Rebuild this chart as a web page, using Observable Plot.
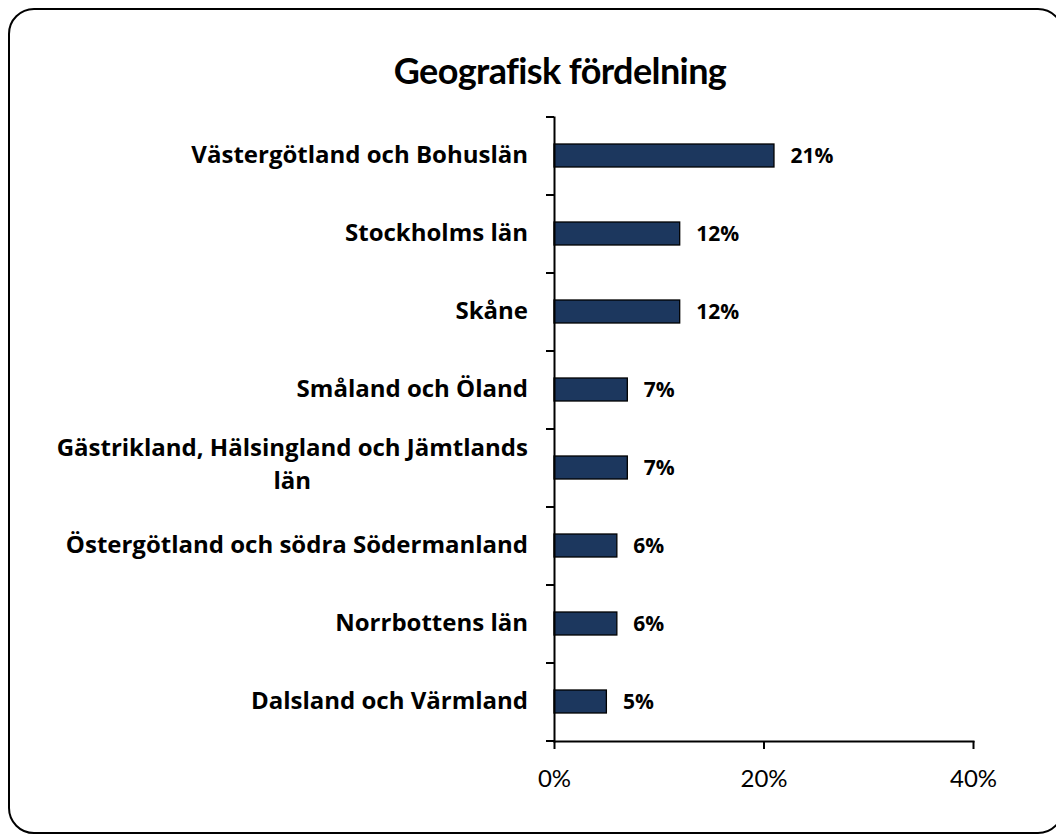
<!DOCTYPE html>
<html><head><meta charset="utf-8">
<script src="https://cdn.jsdelivr.net/npm/d3@7"></script>
<script src="https://cdn.jsdelivr.net/npm/@observablehq/plot@0.6"></script>
<style>
body{margin:0;background:#fff;font-family:Lato,sans-serif;}
#wrap{position:relative;width:1056px;height:835px;overflow:hidden;background:#fff;}
#frame{position:absolute;left:8px;top:8px;width:1056px;height:826px;border:2px solid #000;border-radius:26px;box-sizing:border-box;}
#title{position:absolute;left:0;width:1120px;top:50px;line-height:40px;text-align:center;font-weight:bold;font-size:36px;letter-spacing:-0.6px;font-family:Lato,sans-serif;color:#000;}
#chart{position:absolute;left:0;top:0;}
</style></head>
<body>
<div id="wrap">
  <div id="frame"></div>
  <div id="title">Geografisk fördelning</div>
  <div id="chart"></div>
</div>
<script>
const categories = [
  "Västergötland och Bohuslän",
  "Stockholms län",
  "Skåne",
  "Småland och Öland",
  "Gästrikland, Hälsingland och Jämtlands län",
  "Östergötland och södra Södermanland",
  "Norrbottens län",
  "Dalsland och Värmland"
];
const categoryLabels = [
  "Västergötland och Bohuslän",
  "Stockholms län",
  "Skåne",
  "Småland och Öland",
  "Gästrikland, Hälsingland och Jämtlands\nlän",
  "Östergötland och södra Södermanland",
  "Norrbottens län",
  "Dalsland och Värmland"
];
const values = [21, 12, 12, 7, 7, 6, 6, 5];
const xTicks = [0, 20, 40];

const data = categories.map((c, i) => ({region: c, value: values[i], label: categoryLabels[i]}));

const labelFamily = "Open Sans";
const labelSize = 24;
const ctx = document.createElement("canvas").getContext("2d");
ctx.font = `bold ${labelSize}px "${labelFamily}"`;

function yDecor(index, scales, vals, dims) {
  const y = scales.y;
  const g = d3.create("svg:g");
  const x0 = dims.marginLeft;
  const top = dims.marginTop, bottom = dims.height - dims.marginBottom;
  const n = categories.length;
  const step = (bottom - top) / n;
  for (let i = 0; i <= n; i++) {
    const yy = top + i * step;
    g.append("line").attr("x1", x0 - 8).attr("x2", x0).attr("y1", yy).attr("y2", yy)
      .attr("stroke", "#000").attr("stroke-width", 2);
  }
  const lh = 33;
  data.forEach(d => {
    const yc = y(d.region) + y.bandwidth() / 2;
    const lines = d.label.split("\n");
    const w = Math.max(...lines.map(l => ctx.measureText(l).width));
    const right = x0 - 26;
    const shift = lines.length > 1 ? -3 : -1;
    const t = g.append("text")
      .attr("font-weight", "bold").attr("font-size", labelSize).attr("font-family", labelFamily).attr("fill", "#000");
    if (lines.length > 1) {
      t.attr("text-anchor", "middle");
      lines.forEach((l, j) => {
        t.append("tspan")
          .attr("x", right - w / 2)
          .attr("y", yc + (j - (lines.length - 1) / 2) * lh + shift)
          .attr("dy", "0.35em")
          .text(l);
      });
    } else {
      t.attr("text-anchor", "end").attr("x", right).attr("y", yc + shift).attr("dy", "0.35em").text(lines[0]);
    }
  });
  return g.node();
}

const chart = Plot.plot({
  width: 1056,
  height: 835,
  marginLeft: 554,
  marginRight: 83,
  marginTop: 117,
  marginBottom: 94,
  style: {background: "transparent", fontFamily: "Lato"},
  x: {domain: [0, 40], label: null},
  y: {domain: categories, paddingInner: 0.7, paddingOuter: 0.35, axis: null},
  marks: [
    Plot.barX(data, {x: "value", y: "region", fill: "#1c375e", stroke: "#000", strokeWidth: 1.3}),
    Plot.text(data, {x: "value", y: "region", text: d => d.value + "%", dx: 16, textAnchor: "start",
      fontWeight: "bold", fontSize: 21, fontFamily: "Open Sans", fill: "#000"}),
    Plot.axisX({ticks: xTicks, tickFormat: d => d + "%", tickSize: 8, tickPadding: 20, fontSize: 24,
      strokeWidth: 2, stroke: "#000", fill: "#000", label: null}),
    Plot.frame({anchor: "bottom", stroke: "#000", strokeWidth: 2}),
    Plot.frame({anchor: "left", stroke: "#000", strokeWidth: 2}),
    yDecor
  ]
});
document.getElementById("chart").appendChild(chart);
</script>
</body></html>
